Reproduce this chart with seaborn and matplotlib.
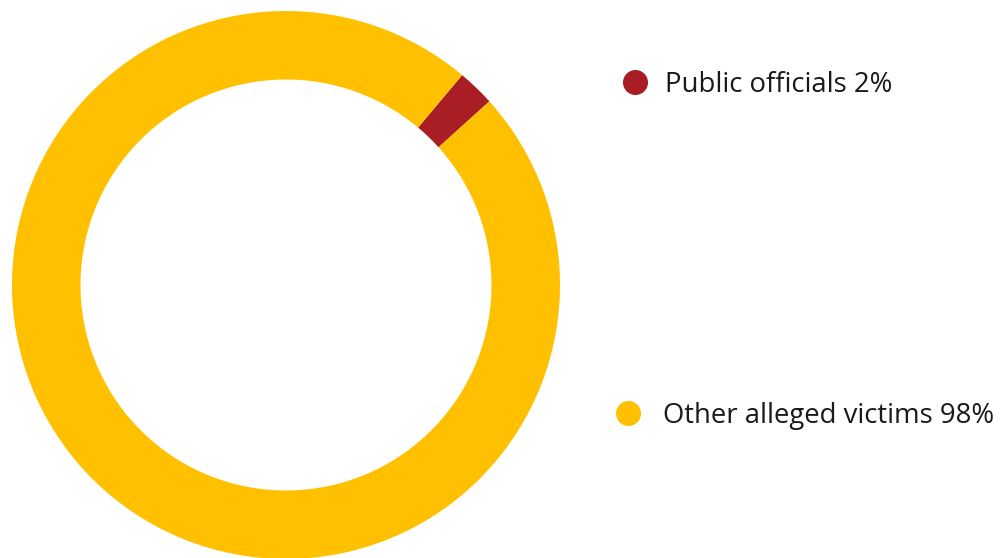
import matplotlib
matplotlib.use("Agg")
import matplotlib.pyplot as plt
import seaborn as sns
from matplotlib.lines import Line2D

categories = ["Public officials", "Other alleged victims"]
values = [2.2, 97.8]
pct_labels = ["2%", "98%"]
colors = ["#A81E24", "#FFC000"]

sns.set_theme(style="white")
plt.rcParams['font.family'] = ['Open Sans', 'DejaVu Sans']

W, H = 1003, 558
fig = plt.figure(figsize=(W / 100, H / 100), dpi=100)
cx, cy, R = 286, 285, 274
ax = fig.add_axes([(cx - R) / W, (H - cy - R) / H, 2 * R / W, 2 * R / H])
ax.pie(values, colors=colors, startangle=50, counterclock=False,
       radius=1.0, wedgeprops=dict(width=0.25, linewidth=0, antialiased=True))
ax.set_xlim(-1, 1)
ax.set_ylim(-1, 1)
ax.set_aspect("equal")
ax.axis("off")

legend_pos = [(635, 82, 665), (628, 413, 663)]
for (mx, my, tx), cat, pl, col in zip(legend_pos, categories, pct_labels, colors):
    fig.add_artist(Line2D([mx / W], [1 - my / H], marker="o", markersize=17,
                          color=col, linestyle="none", transform=fig.transFigure))
    fig.text(tx / W, 1 - (my + 3) / H, f"{cat} {pl}", fontsize=19.8, color="#1a1a1a",
             va="center", ha="left")

fig.savefig("out.png", dpi=100)
